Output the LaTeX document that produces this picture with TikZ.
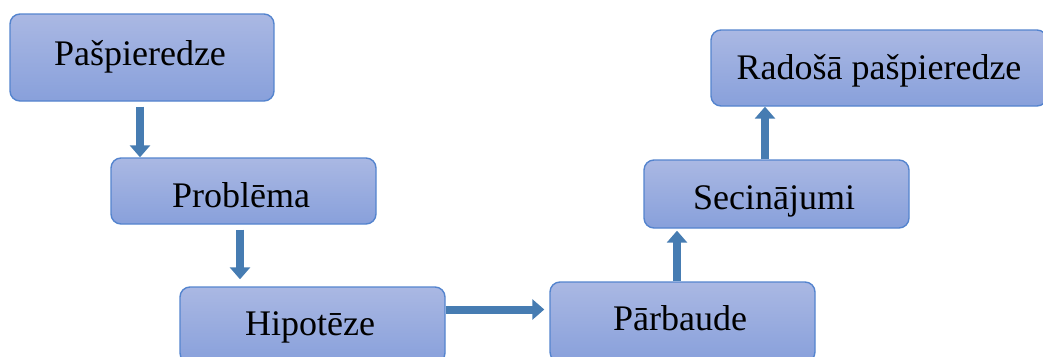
\documentclass[tikz,border=0pt]{standalone}
\usepackage{fontspec}
\setmainfont{Liberation Serif}
\usetikzlibrary{arrows.meta}
\definecolor{boxtop}{RGB}{170,184,227}
\definecolor{boxbot}{RGB}{136,160,219}
\definecolor{boxline}{RGB}{84,132,206}
\definecolor{arrowblue}{RGB}{70,124,178}
\tikzset{
  box/.style={draw=boxline, line width=1.4pt, rounded corners=10pt,
    top color=boxtop, bottom color=boxbot, inner sep=0pt},
  lbl/.style={anchor=base, inner sep=0pt, font=\fontsize{36}{40}\selectfont},
  arr/.style={draw=arrowblue, line width=8pt,
    -{Triangle[width=20pt,length=12pt]}}
}
\begin{document}
\begin{tikzpicture}[x=1pt,y=-1pt]
\useasboundingbox (0,0) rectangle (1043,356);
\clip (0,0) rectangle (1043,356);
% boxes
\node[box, minimum width=264pt, minimum height=87pt] (b1) at (142,57.5) {};
\node[box, minimum width=265pt, minimum height=66pt] (b2) at (243.5,191) {};
\node[box, minimum width=265pt, minimum height=76pt] (b3) at (312.5,325) {};
\node[box, minimum width=265pt, minimum height=80pt] (b4) at (682.5,322) {};
\node[box, minimum width=265pt, minimum height=68pt] (b5) at (776.5,194) {};
\node[box, minimum width=336pt, minimum height=76pt] (b6) at (879,68) {};
% labels
\node[lbl] (t1) at (140,65) {Pašpieredze};
\node[lbl] (t2) at (241,207) {Problēma};
\node[lbl] (t3) at (310,335) {Hipotēze};
\node[lbl] (t4) at (680,330) {Pārbaude};
\node[lbl] (t5) at (774,209) {Secinājumi};
\node[lbl] (t6) at (879,79) {Radošā pašpieredze};
% arrows
\draw[arr, shorten <=5pt] ([xshift=-2pt]b1.south) -- ([xshift=-2pt]b1.south |- b2.north);
\draw[arr, shorten <=5pt, shorten >=7pt] ([xshift=-3.5pt]b2.south) -- ([xshift=-3.5pt]b2.south |- b3.north);
\draw[arr, shorten >=5pt] ([yshift=15.5pt]b3.east) -- ([yshift=15.5pt]b3.east -| b4.west);
\draw[arr, shorten >=2pt] ([xshift=-5.5pt]b4.north) -- ([xshift=-5.5pt]b4.north |- b5.south);
\draw[arr] ([xshift=-11.5pt]b5.north) -- ([xshift=-11.5pt]b5.north |- b6.south);
\end{tikzpicture}
\end{document}
